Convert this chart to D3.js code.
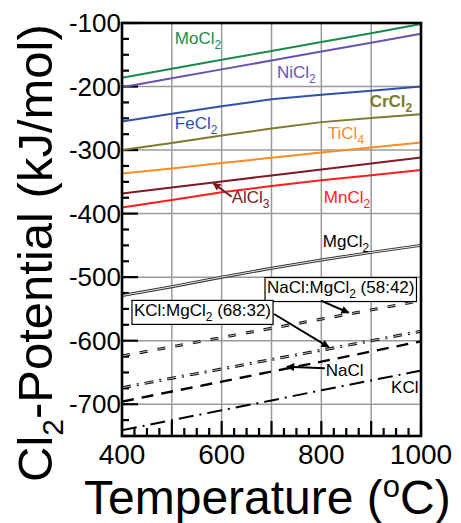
<!DOCTYPE html>
<html>
<head>
<meta charset="utf-8">
<script src="https://cdn.jsdelivr.net/npm/d3@7"></script>
<style>
  body { margin: 0; background: #fff; }
  svg { display: block; font-family: "Liberation Sans", Arial, Helvetica, sans-serif; }
</style>
</head>
<body>
<svg id="chart" width="461" height="523"></svg>
<script>
// temperatures (deg C) at which every curve is read
var temps = [400, 500, 600, 700, 800, 900, 1000];

// Cl2 potential (kJ/mol) of each chloride
var moCl2  = [-186, -172, -158, -144, -130, -116, -101.5];
var niCl2  = [-201, -187, -173, -159, -145, -131, -117];
var feCl2  = [-255, -243, -231, -220, -213, -206.5, -200];
var crCl2  = [-300, -289, -277, -266, -256, -249.5, -243.5];
var tiCl4  = [-337, -329, -320.5, -312, -304, -296, -288];
var alCl3  = [-368.5, -359, -349.5, -340, -330.5, -321, -311.5];
var mnCl2  = [-390.5, -378.5, -366.5, -356.5, -347.5, -339.5, -331.5];
var mgCl2  = [-529, -515, -500, -486, -473, -461, -450];
var naMg   = [-624, -609.5, -595, -580.5, -566, -551.5, -537];
var kMg    = [-674, -659, -644.5, -629.5, -615, -600, -585];
var naCl   = [-696, -680, -664.5, -648.5, -633, -617, -601];
var kCl    = [-741, -725, -709.5, -694, -678, -662.5, -647];

var xTicks = [400, 600, 800, 1000];
var yTicks = [-100, -200, -300, -400, -500, -600, -700];

var svg = d3.select("#chart");

var x = d3.scaleLinear().domain([400, 1000]).range([122, 421]);
var y = d3.scaleLinear().domain([-750, -100]).range([436, 23]);

// arrow heads
var defs = svg.append("defs");
function marker(id, col){
  defs.append("marker")
      .attr("id", id)
      .attr("viewBox", "0 0 10 10")
      .attr("refX", 9).attr("refY", 5)
      .attr("markerWidth", 13).attr("markerHeight", 8)
      .attr("markerUnits", "userSpaceOnUse")
      .attr("orient", "auto")
    .append("path")
      .attr("d", "M0,0 L10,5 L0,10 z")
      .attr("fill", col);
}
marker("arrK", "#000");
marker("arrR", "#7f1a1f");

// grid
var grid = svg.append("g");
grid.selectAll(".vg").data([500, 600, 700, 800, 900])
  .enter().append("line")
    .attr("x1", d => x(d)).attr("x2", d => x(d))
    .attr("y1", y(-750)).attr("y2", y(-100))
    .attr("stroke", "#9a9a9a").attr("stroke-width", 1.5);
grid.selectAll(".hg").data([-200, -300, -400, -500, -600, -700])
  .enter().append("line")
    .attr("x1", x(400)).attr("x2", x(1000))
    .attr("y1", d => y(d)).attr("y2", d => y(d))
    .attr("stroke", "#9a9a9a").attr("stroke-width", 1.5);

// inward ticks
var xt = d3.range(400, 1001, 25);
svg.append("g").selectAll("line").data(xt)
  .enter().append("line")
    .attr("x1", d => x(d)).attr("x2", d => x(d))
    .attr("y1", y(-750))
    .attr("y2", d => y(-750) - (d % 100 == 0 ? 15 : 8))
    .attr("stroke", "#000").attr("stroke-width", 2.2);
var yt = d3.range(-750, -99, 25);
svg.append("g").selectAll("line").data(yt)
  .enter().append("line")
    .attr("y1", d => y(d)).attr("y2", d => y(d))
    .attr("x1", x(400))
    .attr("x2", d => x(400) + (d % 100 == 0 ? 16 : 7))
    .attr("stroke", "#000").attr("stroke-width", 2.2);

// curves
var line = d3.line()
  .x((d, i) => x(temps[i]))
  .y(d => y(d));

var solid = [
  {v: moCl2, c: "#1b8a4c"},
  {v: niCl2, c: "#6a50b2"},
  {v: feCl2, c: "#2f51a8"},
  {v: crCl2, c: "#7b7c2c"},
  {v: tiCl4, c: "#ff8a20"},
  {v: alCl3, c: "#801b22"},
  {v: mnCl2, c: "#ff1c1c"}
];
var curves = svg.append("g").attr("fill", "none");
solid.forEach(function(s){
  curves.append("path").attr("d", line(s.v))
    .attr("stroke", s.c).attr("stroke-width", 2);
});

// MgCl2: double line
curves.append("path").attr("d", line(mgCl2))
  .attr("stroke", "#333").attr("stroke-width", 3);
curves.append("path").attr("d", line(mgCl2))
  .attr("stroke", "#fff").attr("stroke-width", 0.9);

// eutectic mixtures: hollow dashes
function hollow(vals, dash){
  curves.append("path").attr("d", line(vals))
    .attr("stroke", "#111").attr("stroke-width", 3).attr("stroke-dasharray", dash);
  curves.append("path").attr("d", line(vals))
    .attr("stroke", "#fff").attr("stroke-width", 0.7).attr("stroke-dasharray", dash);
}
hollow(naMg, "8,10");
hollow(kMg, "9,6,2,6");

curves.append("path").attr("d", line(naCl))
  .attr("stroke", "#000").attr("stroke-width", 2.4).attr("stroke-dasharray", "12,8");
curves.append("path").attr("d", line(kCl))
  .attr("stroke", "#000").attr("stroke-width", 2).attr("stroke-dasharray", "15,6,2,6");

// frame
svg.append("rect")
  .attr("x", x(400)).attr("y", y(-100))
  .attr("width", x(1000) - x(400)).attr("height", y(-750) - y(-100))
  .attr("fill", "none").attr("stroke", "#000").attr("stroke-width", 2.6);

// tick labels
svg.append("g").selectAll("text").data(yTicks)
  .enter().append("text")
    .attr("x", x(400) - 1).attr("y", d => y(d) + 9)
    .attr("text-anchor", "end").attr("font-size", 26)
    .text(d => d);
svg.append("g").selectAll("text").data(xTicks)
  .enter().append("text")
    .attr("x", d => x(d)).attr("y", 464)
    .attr("text-anchor", "middle").attr("font-size", 28)
    .text(d => d);

// series labels with subscripts
var labels = [
  {t: "MoCl", s: "2", T: 506, v: -133,   c: "#1b8a4c"},
  {t: "NiCl", s: "2", T: 711, v: -186.6, c: "#6a50b2"},
  {t: "FeCl", s: "2", T: 506, v: -266.8, c: "#2f51a8"},
  {t: "CrCl", s: "2", T: 897, v: -232.2, c: "#7b7c2c", b: true},
  {t: "TiCl", s: "4", T: 813, v: -282.6, c: "#ff8a20"},
  {t: "AlCl", s: "3", T: 620, v: -383.3, c: "#801b22"},
  {t: "MnCl", s: "2", T: 805, v: -383.3, c: "#ff1c1c"},
  {t: "MgCl", s: "2", T: 803, v: -452.5, c: "#000"},
  {t: "NaCl", s: "",  T: 809, v: -655.6, c: "#000"},
  {t: "KCl",  s: "",  T: 940, v: -682.3, c: "#000"}
];
labels.forEach(function(l){
  var t = svg.append("text")
    .attr("x", x(l.T)).attr("y", y(l.v))
    .attr("font-size", 17).attr("fill", l.c)
    .attr("font-weight", l.b ? "bold" : null);
  t.append("tspan").text(l.t);
  if (l.s) t.append("tspan").attr("dy", 5).attr("font-size", 12).text(l.s);
});

// boxed labels
function boxLabel(T, v, a, b){
  var g = svg.append("g");
  var t = g.append("text").attr("x", x(T) + 2).attr("y", y(v)).attr("font-size", 17);
  t.append("tspan").text(a);
  t.append("tspan").attr("dy", 5).attr("font-size", 12).text("2");
  t.append("tspan").attr("dy", -5).text(b);
  var bb = t.node().getBBox();
  g.insert("rect", "text")
    .attr("x", bb.x - 2).attr("y", bb.y - 0.5)
    .attr("width", bb.width + 4).attr("height", bb.height + 1)
    .attr("fill", "#fff").attr("stroke", "#000").attr("stroke-width", 1.2);
}
boxLabel(687, -525, "NaCl:MgCl", " (58:42)");
boxLabel(420, -561, "KCl:MgCl", " (68:32)");

// arrows
var arrows = [
  {a: [620, -373.4], b: [583, -352],   m: "arrR", c: "#801b22"},
  {a: [799, -537],   b: [855, -556],   m: "arrK", c: "#000"},
  {a: [705, -558],   b: [815, -610],   m: "arrK", c: "#000"},
  {a: [807, -643.4], b: [731, -641],   m: "arrK", c: "#000"}
];
svg.append("g").selectAll("line").data(arrows)
  .enter().append("line")
    .attr("x1", d => x(d.a[0])).attr("y1", d => y(d.a[1]))
    .attr("x2", d => x(d.b[0])).attr("y2", d => y(d.b[1]))
    .attr("stroke", d => d.c).attr("stroke-width", 2)
    .attr("marker-end", d => "url(#" + d.m + ")");

// axis titles
var xt2 = svg.append("text").attr("x", 84).attr("y", 514).attr("font-size", 48);
xt2.append("tspan").text("Temperature (");
xt2.append("tspan").attr("dy", -17).attr("font-size", 31).text("o");
xt2.append("tspan").attr("dy", 17).text("C)");

var yt2 = svg.append("text")
  .attr("transform", "translate(52,482) rotate(-90)")
  .attr("font-size", 49);
yt2.append("tspan").text("Cl");
yt2.append("tspan").attr("dy", 11).attr("font-size", 30).text("2");
yt2.append("tspan").attr("dy", -11).text("-Potential (kJ/mol)");
</script>
</body>
</html>
